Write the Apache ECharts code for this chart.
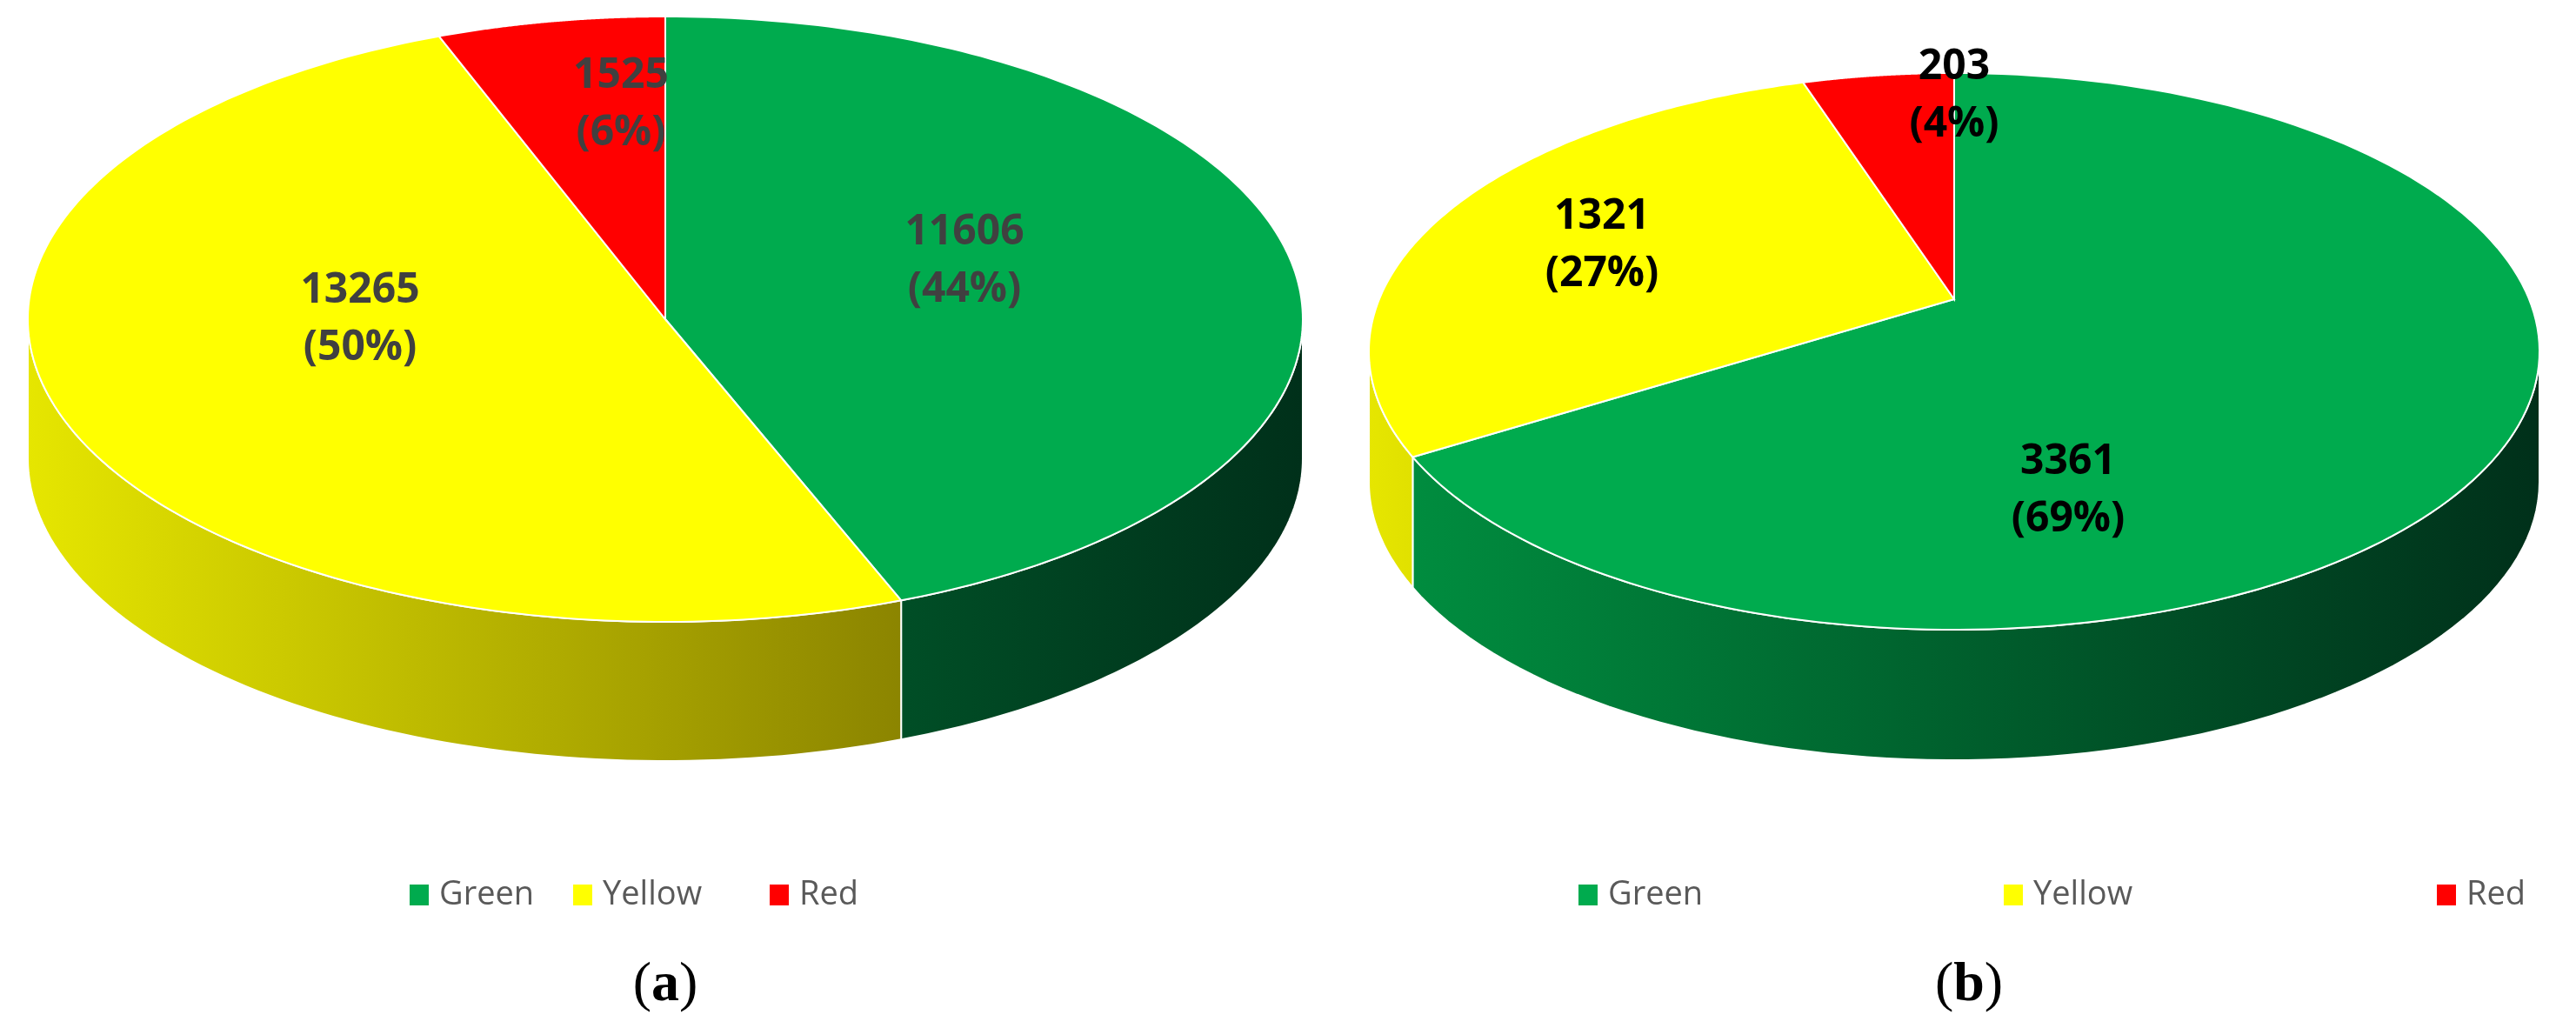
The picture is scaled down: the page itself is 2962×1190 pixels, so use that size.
<!DOCTYPE html>
<html><head><meta charset="utf-8">
<script src="https://cdn.jsdelivr.net/npm/echarts@6/dist/echarts.min.js"></script>
<style>html,body{margin:0;background:#fff}#c{width:2962px;height:1190px}</style>
</head><body><div id="c"></div>
<script>
const categories = ['Green','Yellow','Red'];
const valuesA = [11606, 13265, 1525];
const valuesB = [3361, 1321, 203];
const percentA = ['44%','50%','6%'];
const percentB = ['69%','27%','4%'];
const captionLetters = ['a','b'];

const topColors = ['#00ab4e','#ffff00','#ff0000'];
const sideColors = [['#009040','#00301a'],['#e6e600','#625800'],['#e00000','#600000']];

const pies = [
  {vals: valuesA, pct: percentA, cx: 765, cy: 367, rx: 733, ry: 348, d: 160, ay: 0,
   labels: [[1109,300],[414,367],[714,120]], lc: '#404040'},
  {vals: valuesB, pct: percentB, cx: 2247, cy: 404, rx: 673, ry: 320, d: 150, ay: -60,
   labels: [[2378,564],[1842,282],[2247,110]], lc: '#000000'}
];

function pt(p, t, dy) { return [p.cx + p.rx*Math.sin(t), p.cy - p.ry*Math.cos(t) + (dy||0)]; }
function range(p, i) {
  const tot = p.vals.reduce((a,b)=>a+b,0);
  let s = 0; for (let k=0;k<i;k++) s += p.vals[k];
  return [s/tot*2*Math.PI, (s+p.vals[i])/tot*2*Math.PI];
}

function sideItem(p) {
  return function(params) {
    const i = params.dataIndex;
    let [a,b] = range(p,i);
    const lo = Math.max(a, Math.PI/2), hi = Math.min(b, 3*Math.PI/2);
    if (hi <= lo) return null;
    const top = [], bot = [];
    const n = 80;
    for (let k=0;k<=n;k++){ const t = lo+(hi-lo)*k/n; top.push(pt(p,t)); bot.push(pt(p,t,p.d)); }
    const poly = top.concat(bot.reverse());
    return {type:'polygon', shape:{points:poly},
      style:{fill:{type:'linear',x:p.cx-p.rx,y:0,x2:p.cx+p.rx,y2:0,global:true,
        colorStops:[{offset:0,color:sideColors[i][0]},{offset:1,color:sideColors[i][1]}]},
        stroke:'#ffffff', lineWidth:2}};
  };
}
function topItem(p) {
  return function(params) {
    const i = params.dataIndex;
    const [a,b] = range(p,i);
    const n = 160, pts=[[p.cx,p.cy+p.ay]];
    for (let k=0;k<=n;k++) pts.push(pt(p, a+(b-a)*k/n));
    return {type:'group', children:[
      {type:'polygon', shape:{points:pts}, style:{fill:topColors[i], stroke:'#ffffff', lineWidth:2}},
      {type:'text', x:p.labels[i][0], y:p.labels[i][1], z2:10,
        style:{text: p.vals[i] + '\n(' + p.pct[i] + ')', fill:p.lc, font:'bold 48px "Open Sans", sans-serif',
          align:'center', verticalAlign:'middle', lineHeight:66}}
    ]};
  };
}

const series = [];
pies.forEach((p,pi)=>{
  series.push({type:'custom', coordinateSystem:'none', z:1, data:p.vals.map((v,i)=>[v,i]), renderItem:sideItem(p), silent:true});
  series.push({type:'custom', coordinateSystem:'none', z:2, data:p.vals.map((v,i)=>[v,i]), renderItem:topItem(p), silent:true});
});

const legendPos = [[479,667,893],[1823,2312,2810]];
const graphic = [];
legendPos.forEach((xs,pi)=>{
  xs.forEach((x,i)=>{
    graphic.push({type:'rect', shape:{x:x-8, y:1017, width:22, height:24}, style:{fill:topColors[i]}});
    graphic.push({type:'text', x:x+26, y:1029, style:{text:categories[i], fill:'#595959', font:'38px "Open Sans", sans-serif', verticalAlign:'middle'}});
  });
});
[765,2264].forEach((x,i)=>graphic.push({type:'text', x:x, y:1133,
  style:{text:'({b|' + captionLetters[i] + '})', fill:'#000', font:'64px "Liberation Serif", serif', align:'center', verticalAlign:'middle',
    rich:{b:{fontWeight:'bold', fontSize:64, fontFamily:'Liberation Serif'}}}}));

const chart = echarts.init(document.getElementById('c'));
chart.setOption({animation:false, series, graphic});
</script></body></html>
